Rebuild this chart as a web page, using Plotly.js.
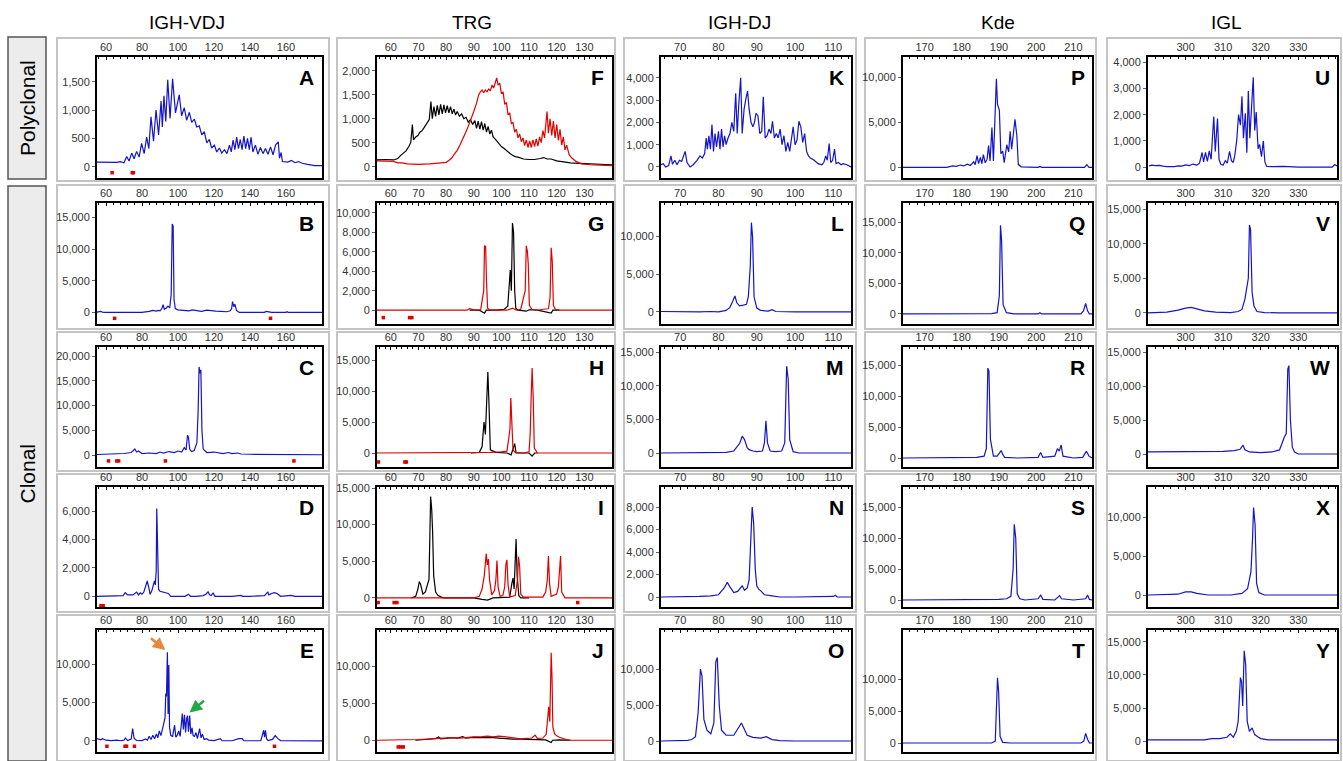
<!DOCTYPE html>
<html><head><meta charset="utf-8">
<script src="https://cdn.plot.ly/plotly-3.0.1.min.js"></script>
<style>body{margin:0;background:#fff}#chart{width:1343px;height:761px}</style>
</head><body><div id="chart"></div>
<script>
// ---------------- DATA ----------------
const columnTitles = ['IGH-VDJ', 'TRG', 'IGH-DJ', 'Kde', 'IGL'];
const rowTitles = ['Polyclonal', 'Clonal'];
const panelLetters = ['A','B','C','D','E','F','G','H','I','J','K','L','M','N','O','P','Q','R','S','T','U','V','W','X','Y'];
const xTickVals = [
  [60, 80, 100, 120, 140, 160],
  [60, 70, 80, 90, 100, 110, 120, 130],
  [70, 80, 90, 100, 110],
  [170, 180, 190, 200, 210],
  [300, 310, 320, 330]
];
const yTickVals = {
  A:[0,500,1000,1500], B:[0,5000,10000,15000], C:[0,5000,10000,15000,20000], D:[0,2000,4000,6000], E:[0,5000,10000],
  F:[0,500,1000,1500,2000], G:[0,2000,4000,6000,8000,10000], H:[0,5000,10000,15000], I:[0,5000,10000,15000], J:[0,5000,10000],
  K:[0,1000,2000,3000,4000], L:[0,5000,10000], M:[0,5000,10000,15000], N:[0,2000,4000,6000,8000], O:[0,5000,10000],
  P:[0,5000,10000], Q:[0,5000,10000,15000], R:[0,5000,10000,15000], S:[0,5000,10000,15000], T:[0,5000,10000],
  U:[0,1000,2000,3000,4000], V:[0,5000,10000,15000], W:[0,5000,10000,15000], X:[0,5000,10000], Y:[0,5000,10000,15000]
};

// traces: [size (bp), fluorescence]
const A_blue = [[55,80],[62,80],[66,75],[68,90],[70,70],[71.5,180],[72.8,100],[74.3,240],[75.6,140],[77,270],[78.4,170],[79.8,410],[81.2,230],[82.6,520],[83.8,320],[85,880],[86.4,450],[87.8,1000],[89.2,560],[90.6,1160],[91.3,700],[92.2,1250],[93.2,800],[94.3,1535],[95.6,850],[97,1550],[98.6,950],[100.7,1270],[102,900],[103.5,1040],[104.8,820],[106.3,960],[107.6,780],[109.1,840],[110.4,700],[111.8,720],[113.2,560],[114.6,620],[116,420],[117.4,480],[118.7,330],[120.2,380],[121.5,260],[123,330],[124.3,240],[125.8,300],[127.2,230],[128.6,380],[129.6,260],[130.6,470],[131.6,300],[132.6,520],[133.6,320],[134.6,480],[135.6,300],[136.6,540],[137.6,320],[138.6,500],[139.6,300],[140.6,520],[141.6,260],[143,380],[144.4,220],[145.8,340],[147.2,230],[148.6,320],[150,220],[151.4,350],[152.8,210],[154.2,380],[155.7,440],[156.4,150],[157.3,250],[158,90],[161,80],[163,110],[165,70],[167,90],[169,60],[172,40],[176,20],[180,20]];
const A_std = [[63.4,-106],[74.6,-106],[75.2,-106]];

const B_blue = [[55,50],[57,150],[58,50],[59,0],[62,0],[80,0],[84,150],[86,300],[88,200],[89,300],[90,250],[91,600],[91.7,1200],[92.4,500],[93.5,700],[94.4,1000],[95.4,700],[96.2,2800],[96.8,13950],[97.3,13600],[97.8,2000],[98.5,600],[100,400],[103,350],[106,250],[108,400],[110,300],[113,150],[116,350],[118,250],[121,200],[124,150],[127,100],[129,250],[129.8,600],[130.3,1700],[131,900],[131.6,1300],[132.5,300],[134,0],[140,0],[148,0],[149,150],[150,120],[152,0],[160,0],[160.6,100],[161.2,0],[170,0],[180,0]];
const B_std = [[64.8,-940],[151.4,-940]];

const C_blue = [[55,100],[60,200],[65,150],[70,300],[74,500],[76,1200],[77,600],[78,800],[80,300],[84,400],[88,300],[90,600],[92,400],[95,700],[98,500],[100,800],[102,600],[103.5,1500],[104.5,1000],[105.3,4000],[105.8,3600],[106.5,1200],[107.5,700],[109,900],[110.5,2500],[111.2,9000],[111.7,17800],[112.2,16500],[112.7,17200],[113.3,5000],[114,1200],[116,500],[120,600],[125,300],[128,500],[130,300],[133,400],[135,200],[140,150],[150,100],[160,100],[170,50],[180,50]];
const C_std = [[61.4,-1200],[66,-1200],[67,-1200],[93,-1200],[164.4,-1200]];

const D_blue = [[55,0],[60,0],[65,0],[69.5,50],[70.7,250],[72,100],[75,100],[77,300],[78,100],[79,250],[80,150],[81,300],[82,700],[82.9,1080],[83.8,600],[84.5,140],[85.5,400],[86.3,900],[86.9,1080],[87.4,800],[87.9,1830],[88.2,6170],[88.6,3000],[89.2,500],[90,350],[92,300],[94.6,200],[96,0],[100,0],[104,0],[105.7,150],[107,0],[110,0],[114,50],[115.5,150],[116.7,320],[117.5,100],[118.5,50],[119.5,250],[120.5,0],[125,0],[130,0],[135.1,60],[136,0],[140,0],[145,0],[148,50],[149.9,300],[150.5,100],[152,200],[153.6,250],[155,200],[157,0],[162.8,60],[165,0],[170,0],[180,0]];
const D_std = [[57.2,-660],[58.4,-660]];

const E_blue = [[55,300],[57,150],[58,300],[60,100],[63,50],[66,120],[68,30],[70,100],[70.8,400],[72,60],[74,250],[74.8,1617],[75.6,350],[77,80],[80,50],[82,250],[83,100],[84,600],[85,200],[86,750],[87,300],[88,900],[88.8,400],[89.6,1300],[90.5,700],[91.2,1600],[92,2200],[92.8,3000],[93.2,6180],[93.6,5800],[94.1,11525],[94.5,3500],[94.9,9870],[95.3,1800],[96,700],[97,600],[98.1,2050],[98.8,500],[99.5,700],[100.4,1300],[101.2,600],[102.4,3570],[103,1500],[103.6,3400],[104.2,1100],[104.8,2900],[105.3,3300],[105.8,1200],[106.5,3300],[107.1,900],[107.8,1700],[108.4,700],[109.2,600],[110,1100],[110.8,300],[112,1617],[112.8,400],[113.6,900],[114.5,200],[116,300],[117,100],[120,50],[123.5,300],[124.5,50],[130,30],[133.8,300],[135.7,300],[136.5,30],[140,20],[146,30],[147.6,1400],[148.1,500],[148.6,1400],[149.2,300],[150,50],[152.5,200],[154,700],[155.5,300],[157,50],[165,20],[180,20]];
const E_std = [[60.5,-690],[70.6,-690],[71.4,-690],[75.8,-690],[153.6,-690]];

const F_black = [[55,140],[58,150],[61,140],[62.5,170],[63.5,230],[64.5,280],[65.5,330],[66.5,420],[67.2,500],[67.8,880],[68.2,560],[69,620],[69.8,650],[70.5,720],[71.3,750],[72.1,820],[73,900],[73.9,980],[74.5,1360],[75,1000],[75.6,1250],[76.2,1050],[76.8,1280],[77.4,1080],[78,1300],[78.6,1100],[79.2,1290],[79.8,1120],[80.4,1270],[81,1120],[81.6,1250],[82.2,1100],[82.8,1200],[83.4,1080],[84,1150],[84.8,1050],[85.6,1100],[86.4,1000],[87.2,1030],[88,930],[88.8,980],[89.6,880],[90.4,960],[91,800],[91.6,950],[92.2,780],[92.8,940],[93.4,760],[94,900],[94.6,720],[95.2,840],[95.8,680],[96.4,760],[97,620],[98,560],[99,480],[100,420],[101,380],[102,320],[103,280],[104,240],[105,210],[106,200],[107,180],[108,160],[110,150],[112,150],[114,170],[115.3,190],[116.5,160],[118,160],[120,120],[122,100],[125,80],[128,70],[131,60],[134,50],[137,40],[140,40]];
const F_red = [[55,120],[58,120],[61,110],[62.5,80],[64,80],[66,60],[70,50],[74,60],[78,70],[80,90],[81,130],[82,180],[83,260],[84,340],[85,450],[86,560],[87,700],[88,840],[89,980],[90,1150],[91,1320],[91.8,1500],[92.4,1560],[93,1600],[93.6,1540],[94.2,1600],[94.8,1560],[95.4,1620],[96,1580],[96.6,1700],[97.2,1640],[97.8,1780],[98.3,1850],[98.8,1700],[99.4,1740],[100,1520],[100.6,1560],[101.2,1300],[101.8,1340],[102.4,1080],[103,1120],[103.6,900],[104.2,920],[104.8,720],[105.4,780],[106,600],[106.6,680],[107.2,520],[107.8,600],[108.4,440],[109,560],[109.6,400],[110.2,540],[110.8,400],[111.4,560],[112,420],[112.6,580],[113.2,430],[113.8,620],[114.4,500],[115,750],[115.6,600],[116.2,900],[116.5,1150],[117,700],[117.6,1000],[118.2,650],[118.8,950],[119.4,600],[120,880],[120.6,550],[121.2,780],[121.8,450],[122.4,620],[123,350],[123.6,450],[124.5,250],[125.5,180],[127,110],[129,60],[132,40],[136,30],[140,20]];

const G_black = [[88.5,0],[92,0],[93.9,-300],[94.5,0],[98,0],[101,100],[102.3,400],[102.8,2000],[103.2,4130],[103.6,2000],[104,8930],[104.4,8000],[104.8,2000],[105.2,200],[106,0],[109,-100],[110,50],[113,0],[118,-300],[118.6,0],[121,0]];
const G_red = [[55,0],[87.5,0],[88.5,150],[89.5,100],[90.5,0],[92.5,50],[93.2,1474],[93.6,2000],[93.9,6630],[94.3,6500],[94.6,3000],[95,200],[96,0],[102,0],[104,200],[105.5,0],[107,100],[108.2,1500],[108.6,2000],[109,6600],[109.4,6000],[109.7,4800],[110.1,500],[111,100],[113,0],[115,100],[117,150],[117.6,1300],[118,6400],[118.4,5000],[118.8,500],[119.5,100],[121,0],[140,0]];
const G_std = [[57.3,-760],[66.8,-760],[67.6,-760]];

const H_black = [[89,0],[92,100],[93,1000],[93.7,5000],[94.2,3000],[95.1,13064],[95.5,8000],[96,500],[98,100],[102,0],[103.5,-300],[104.2,600],[104.8,1500],[105.3,0],[110,0],[111.1,-500],[112,0],[113,0]];
const H_red = [[55,0],[90,0],[93,50],[96,100],[100,200],[102,300],[102.7,2500],[103.1,4000],[103.4,8870],[103.8,5500],[104.2,500],[105,100],[108,0],[110,200],[110.4,3000],[110.7,8000],[111.1,13700],[111.5,9000],[111.9,800],[113,0],[140,0]];
const H_std = [[55.5,-1450],[65.1,-1450],[65.6,-1450]];

const I_black = [[67.5,0],[69,200],[69.8,1200],[70.3,2230],[70.8,1800],[71.6,500],[72.5,800],[73.4,2100],[73.8,2500],[74.4,13830],[74.8,12000],[75.1,9190],[75.5,3000],[76.2,800],[77.1,300],[78.9,0],[80,0],[90,0],[93,-200],[95,-300],[97,0],[103,100],[103.8,2000],[104.2,2690],[104.6,1200],[105,5000],[105.3,8020],[105.7,3000],[106.3,300],[107,0],[110,0]];
const I_red = [[55,0],[90,0],[92,200],[93,1200],[93.8,3000],[94.5,6030],[94.9,4500],[95.3,5300],[95.7,2500],[96.5,400],[97.5,1000],[98,2500],[98.4,5100],[98.8,1500],[99.5,200],[100.5,300],[101.2,1500],[101.6,4500],[102,5200],[102.4,1800],[103,100],[104,200],[105,300],[105.8,2500],[106.2,5600],[106.6,4200],[107,500],[108,100],[115,100],[116,800],[116.6,2500],[117,5710],[117.4,2000],[118,200],[120,500],[120.6,1500],[121.1,4800],[121.4,5700],[121.8,800],[123,0],[140,0]];
const I_std = [[55.4,-650],[61.2,-650],[62.2,-650],[127.6,-650]];

const J_black = [[68.9,0],[72,100],[74,150],[76,200],[77.3,450],[78,200],[80,250],[82,350],[84,300],[86,500],[87,300],[90,400],[93,350],[96,400],[99,300],[101,200],[104,150],[107,150],[110,100],[113,100],[116,50],[118,-300],[118.5,0],[121,50],[124,0],[125,0]];
const J_red = [[55,0],[68,0],[70,100],[73,150],[76,200],[78,300],[80,250],[82,350],[85,300],[87,400],[90,450],[93,500],[95,550],[97,450],[99,550],[101,500],[103,400],[105,300],[107,200],[109,250],[111,300],[112.2,680],[113,250],[115,300],[116.2,800],[116.7,2800],[117.1,4500],[117.5,2500],[118,11790],[118.3,8500],[118.6,1800],[119.2,900],[120,600],[121,400],[122,250],[123.5,100],[125,0],[134,0],[134.5,100],[135,0],[140,0]];
const J_std = [[62.7,-900],[63.6,-900],[64.5,-900]];

const K_blue = [[65,100],[65.6,150],[66.2,0],[67,60],[67.6,500],[68,120],[68.6,300],[69.2,100],[69.8,300],[70.4,250],[71.3,700],[71.8,200],[72.6,0],[73.4,100],[74.4,300],[75.2,500],[75.8,400],[76.4,600],[76.8,1300],[77.1,800],[77.5,1400],[77.9,800],[78.3,1900],[78.7,700],[79.1,1500],[79.5,900],[80,1600],[80.4,800],[80.8,1700],[81.2,900],[81.6,1400],[82,1000],[82.5,1300],[83,1500],[83.5,2000],[84,1600],[84.5,3300],[84.9,1500],[85.3,2800],[85.8,4000],[86.2,1500],[86.7,2600],[87.2,3100],[87.6,3400],[88,2600],[88.5,2000],[89,1800],[89.4,2000],[89.8,2400],[90.3,2300],[90.8,1500],[91.3,1600],[91.7,3150],[92.2,1300],[92.7,1400],[93.2,1700],[93.7,1500],[94.1,2050],[94.6,1300],[95.1,1500],[95.6,1300],[96.1,1700],[96.6,1000],[97.1,1400],[97.6,700],[98.1,1100],[98.6,700],[99.1,1400],[99.5,1800],[100,1000],[100.5,1200],[101,2050],[101.5,1800],[102,1100],[102.5,1500],[103,700],[103.5,500],[104,400],[105,300],[106,150],[107,100],[107.5,200],[108,500],[108.4,300],[108.9,1050],[109.3,200],[109.8,300],[110.3,800],[110.7,150],[111.3,200],[112,100],[112.5,150],[113.5,100],[114.6,0]];
const L_blue = [[65,50],[70,0],[75,0],[78,50],[80,0],[82,200],[83,600],[83.8,1500],[84.3,2100],[84.8,1200],[85.5,800],[86.5,900],[87.3,1000],[87.8,2000],[88.3,6000],[88.6,11800],[88.9,10000],[89.3,2000],[90,500],[91,200],[93,100],[94,300],[95,50],[100,0],[105,0],[110,0],[114.6,0]];
const M_blue = [[65,0],[75,0],[80,0],[82,100],[84,300],[85.5,1400],[86.2,2500],[86.8,2000],[87.5,800],[88,500],[89,300],[90,200],[91.5,300],[92,1500],[92.4,4800],[92.8,1500],[93.5,300],[95,200],[96.5,300],[97.3,1500],[97.8,12900],[98.2,11000],[98.6,2000],[99.5,200],[101,0],[105,0],[110,0],[114.6,0]];
const N_blue = [[65,0],[72,0],[75,50],[78,100],[80,200],[81.5,800],[82.3,1300],[83,900],[84,400],[85,500],[86.2,1000],[86.8,600],[87.5,800],[88,1500],[88.5,5000],[88.8,8000],[89.2,6500],[89.6,2500],[90,1000],[90.5,700],[91.2,500],[92,200],[94,100],[96,0],[100,0],[110,50],[110.5,150],[111,0],[114.6,0]];
const O_blue = [[65,0],[68,0],[70,100],[72,100],[73,200],[74,600],[74.7,4000],[75.3,10000],[75.7,9000],[76.2,3000],[77,1500],[78,1000],[78.8,2500],[79.3,11000],[79.7,11600],[80.2,5000],[80.8,1500],[82,800],[84,800],[85.3,1800],[86,2500],[86.7,1700],[87.5,800],[89,500],[91,400],[92.5,600],[94,200],[96,50],[100,0],[114.6,0]];

const P_blue = [[164.2,0],[176,0],[177.5,150],[178.5,100],[179.6,250],[180.5,150],[181.5,350],[182.3,200],[183.2,600],[183.6,300],[184.1,1300],[184.5,400],[185,1100],[185.4,400],[185.8,1400],[186.3,500],[186.8,900],[187.2,2400],[187.6,700],[188.1,4400],[188.5,700],[189.3,9800],[189.6,7000],[190.1,6300],[190.5,1500],[191,1800],[191.4,500],[192.1,2500],[192.6,1700],[193,4000],[193.4,2000],[193.9,4200],[194.3,5300],[194.8,3500],[195.2,300],[196,50],[200.5,0],[201,100],[201.5,0],[213,0],[213.6,300],[214.2,0],[215,0]];
const Q_blue = [[164.2,0],[185,0],[188,50],[189.5,200],[190.1,3000],[190.4,14500],[190.7,12000],[191.1,1500],[192,200],[194,0],[200.5,0],[201,200],[201.5,0],[212,0],[212.7,500],[213.3,1700],[213.8,500],[214.3,0],[215,0]];
const R_blue = [[164.2,0],[180,0],[184,100],[186,300],[186.6,1500],[187,14500],[187.3,14000],[187.7,3000],[188.5,300],[189.5,300],[190.6,1200],[191,600],[191.5,100],[195,0],[200.5,100],[201.2,900],[201.8,100],[205,300],[205.7,1500],[206.2,1100],[206.7,2100],[207.2,300],[210,0],[212.5,100],[213.5,1100],[214.2,300],[215,0]];
const S_blue = [[164.2,0],[176,0],[177,100],[178,0],[183,0],[188,100],[190,100],[192,200],[193.2,600],[193.8,5000],[194.1,12200],[194.5,10000],[194.9,1000],[195.6,200],[197,0],[200.5,200],[201.2,800],[201.8,100],[205,0],[206.3,700],[206.8,200],[210,0],[213.3,200],[213.8,800],[214.3,100],[215,0]];
const T_blue = [[164.2,0],[185,0],[188,0],[189,300],[189.3,5000],[189.6,10200],[189.9,8000],[190.3,1000],[191,100],[193,0],[200,0],[212,0],[212.8,300],[213.3,1500],[213.8,600],[214.3,0],[215,0]];

const U_blue = [[290.3,50],[291,80],[292,60],[293,70],[294,40],[295,20],[297,20],[298,50],[299,40],[300,90],[301,60],[302,120],[303,80],[303.7,150],[304.4,560],[304.8,200],[305.3,560],[305.8,220],[306.3,620],[306.8,300],[307.5,1930],[307.9,600],[308.5,1850],[308.9,300],[309.4,100],[310,80],[310.6,250],[311.1,150],[311.7,600],[312.2,250],[312.7,180],[313.1,450],[313.6,1000],[314.1,2000],[314.6,1600],[315,2700],[315.4,1100],[315.9,2050],[316.3,550],[316.7,2900],[317.1,1100],[317.5,2150],[318,3420],[318.4,1400],[318.8,2100],[319.3,700],[319.7,870],[320.2,400],[320.7,1000],[321.1,200],[321.6,30],[323,20],[326,30],[330,0],[335,0],[339,0],[339.7,100],[340.3,50]];
const V_blue = [[290,0],[295,100],[298,400],[300,700],[301.5,800],[303,600],[305,300],[308,100],[312,50],[314,200],[315,500],[315.8,2000],[316.2,3500],[316.7,5000],[317,12700],[317.3,12000],[317.7,3000],[318.2,1000],[319,200],[321,50],[325,0],[330,0],[340.3,0]];
const W_blue = [[290,300],[295,300],[300,300],[305,300],[310,400],[313,500],[314.5,700],[315.3,1300],[315.8,600],[317,300],[320,200],[323,300],[325,600],[326.3,2500],[326.8,3000],[327.2,12500],[327.5,13000],[327.9,5000],[328.4,1000],[329,300],[330,0],[335,0],[340.3,0]];
const X_blue = [[290,0],[298,100],[300,400],[301.5,400],[303,200],[306,0],[312,0],[315,200],[316.5,800],[317.4,3000],[317.8,7000],[318.1,11200],[318.5,9000],[318.9,1500],[319.5,300],[321,0],[325,0],[340.3,0]];
const Y_blue = [[290,200],[295,200],[298,250],[300,200],[303,300],[305,200],[307,400],[309,400],[311,600],[311.9,1100],[312.7,600],[313.5,1500],[314,3000],[314.4,8000],[314.6,9590],[314.9,9000],[315.2,5300],[315.6,13640],[316,11500],[316.4,3000],[317,1500],[317.7,2015],[318.4,1000],[319.1,700],[320,400],[322,200],[325,200],[330,200],[336,200],[336.5,300],[337,200],[340.3,200]];

// arrows in panel E: [x, y] of arrow tips
const E_arrowOrange = [93.0, 11825];
const E_arrowGreen = [106.4, 3700];

// ---------------- LAYOUT GEOMETRY ----------------
const W = 1343, H = 761;
const BLUE = '#1414c8', RED = '#e00000', BLACK = '#000000';
const colPx = [[97,322],[377,612],[661,851],[903,1092],[1148,1337]];
const rowPx = [[57,178],[203,324],[347,467],[487,607],[630,752]];
const colRange = [[55,180],[55,140],[65,114.6],[164.2,215],[290,340.3]];
const colBox = [[57,329],[337,615],[624,856],[865,1096],[1107,1341]];
const rowBox = [[38,181],[185,329],[332,471],[474,612],[615,761]];
const yRange = {
  A:[-200,1936], B:[-1834,17257], C:[-2424,21818], D:[-753,7688], E:[-1434,14433],
  F:[-236,2286], G:[-1412,10990], H:[-2258,17097], I:[-1253,15139], J:[-1582,14857],
  K:[-493,4927], L:[-1600,14400], M:[-2077,15742], N:[-889,9778], O:[-1528,15417],
  P:[-1185,12215], Q:[-1650,18135], R:[-1452,17903], S:[-1129,18226], T:[-1406,17656],
  U:[-411,4194], V:[-1603,15875], W:[-1912,15735], X:[-1538,13846], Y:[-1621,16758]
};
const panelTraces = {
  A:[[A_blue,BLUE]], B:[[B_blue,BLUE]], C:[[C_blue,BLUE]], D:[[D_blue,BLUE]], E:[[E_blue,BLUE]],
  F:[[F_black,BLACK],[F_red,RED]], G:[[G_black,BLACK],[G_red,RED]], H:[[H_black,BLACK],[H_red,RED]],
  I:[[I_black,BLACK],[I_red,RED]], J:[[J_black,BLACK],[J_red,RED]],
  K:[[K_blue,BLUE]], L:[[L_blue,BLUE]], M:[[M_blue,BLUE]], N:[[N_blue,BLUE]], O:[[O_blue,BLUE]],
  P:[[P_blue,BLUE]], Q:[[Q_blue,BLUE]], R:[[R_blue,BLUE]], S:[[S_blue,BLUE]], T:[[T_blue,BLUE]],
  U:[[U_blue,BLUE]], V:[[V_blue,BLUE]], W:[[W_blue,BLUE]], X:[[X_blue,BLUE]], Y:[[Y_blue,BLUE]]
};
const panelStd = {A:A_std, B:B_std, C:C_std, D:D_std, E:E_std, G:G_std, H:H_std, I:I_std, J:J_std};

const FONT = 'Arial, "Liberation Sans", sans-serif';
const data = [];
const layout = {
  width: W, height: H, margin: {l:0, r:0, t:0, b:0},
  paper_bgcolor: '#fff', plot_bgcolor: '#fff', showlegend: false,
  font: {family: FONT, color: '#333', size: 11},
  annotations: [], shapes: []
};

panelLetters.forEach((L, i) => {
  const n = i + 1;
  const c = Math.floor(i / 5), r = i % 5;
  const xs = n === 1 ? '' : n;
  const xd = [colPx[c][0] / W, colPx[c][1] / W];
  const yd = [1 - rowPx[r][1] / H, 1 - rowPx[r][0] / H];
  layout['xaxis' + xs] = {
    domain: xd, range: colRange[c], anchor: 'y' + xs, side: 'top',
    tickvals: xTickVals[c], ticks: 'inside', ticklen: 3, tickcolor: '#000',
    showline: true, mirror: true, linecolor: '#000', linewidth: 2,
    showgrid: false, zeroline: false, fixedrange: true,
    tickfont: {family: FONT, size: 11, color: '#333'},
    minor: {ticks: 'inside', ticklen: 2, dtick: (c === 0 ? 4 : 2), tickcolor: '#000'}
  };
  layout['yaxis' + xs] = {
    domain: yd, range: yRange[L], anchor: 'x' + xs,
    tickvals: yTickVals[L], tickformat: ',', ticks: 'outside', ticklen: 3, tickcolor: '#666',
    showline: true, mirror: true, linecolor: '#000', linewidth: 2,
    showgrid: false, zeroline: false, fixedrange: true,
    tickfont: {family: FONT, size: 11, color: '#333'}
  };
  panelTraces[L].forEach(([pts, color]) => {
    data.push({
      type: 'scatter', mode: 'lines', x: pts.map(p => p[0]), y: pts.map(p => p[1]),
      xaxis: 'x' + xs, yaxis: 'y' + xs, line: {color: color, width: 1.2}, hoverinfo: 'skip'
    });
  });
  if (panelStd[L]) {
    const s = panelStd[L];
    data.push({
      type: 'scatter', mode: 'markers', x: s.map(p => p[0]), y: s.map(p => p[1]),
      xaxis: 'x' + xs, yaxis: 'y' + xs, marker: {symbol: 'square', size: 3.5, color: RED}, hoverinfo: 'skip'
    });
  }
  layout.annotations.push({
    xref: 'x' + xs + ' domain', yref: 'y' + xs + ' domain', x: 0.975, y: 0.94,
    xanchor: 'right', yanchor: 'top', showarrow: false, text: '<b>' + L + '</b>',
    font: {family: FONT, size: 21, color: '#000'}
  });
  layout.shapes.push({
    type: 'rect', xref: 'paper', yref: 'paper',
    x0: colBox[c][0] / W, x1: colBox[c][1] / W, y0: 1 - rowBox[r][1] / H, y1: 1 - rowBox[r][0] / H,
    line: {color: '#c4c4c4', width: 2}, fillcolor: 'rgba(0,0,0,0)', layer: 'below'
  });
});

// column titles
const titleX = [187, 472, 740, 998, 1226];
columnTitles.forEach((t, c) => {
  layout.annotations.push({xref:'paper', yref:'paper', x: titleX[c] / W, y: 1 - 22 / H,
    xanchor:'center', yanchor:'middle', showarrow:false, text: t, font:{family: FONT, size: 19, color:'#000'}});
});
// row title boxes
const rowLabelBox = [[37,179],[186,761]];
rowTitles.forEach((t, k) => {
  layout.shapes.push({type:'rect', xref:'paper', yref:'paper', x0: 8/W, x1: 46/W,
    y0: 1 - rowLabelBox[k][1]/H, y1: 1 - rowLabelBox[k][0]/H,
    line:{color:'#555', width:1.5}, fillcolor:'#ececec', layer:'below'});
  layout.annotations.push({xref:'paper', yref:'paper', x: 27/W, y: 1 - (rowLabelBox[k][0]+rowLabelBox[k][1])/2/H,
    xanchor:'center', yanchor:'middle', textangle:-90, showarrow:false, text: t,
    font:{family: FONT, size: 21, color:'#000'}});
});
// arrows in E
layout.annotations.push({xref:'x5', yref:'y5', x: E_arrowOrange[0], y: E_arrowOrange[1], ax: -16, ay: -13,
  showarrow:true, arrowhead:2, arrowsize:1, arrowwidth:2.5, arrowcolor:'#e8893a', text:''});
layout.annotations.push({xref:'x5', yref:'y5', x: E_arrowGreen[0], y: E_arrowGreen[1], ax: 16, ay: -13,
  showarrow:true, arrowhead:2, arrowsize:1, arrowwidth:2.5, arrowcolor:'#22a84a', text:''});

Plotly.newPlot('chart', data, layout, {displayModeBar: false, staticPlot: true});
</script></body></html>
